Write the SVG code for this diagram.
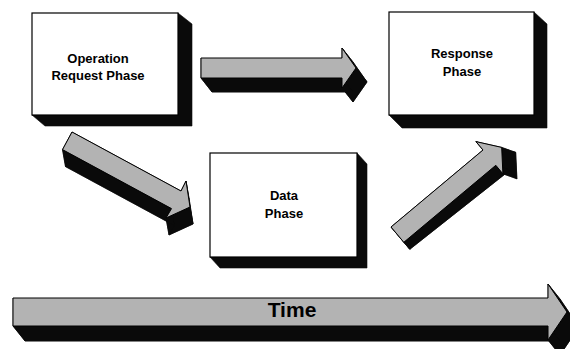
<svg xmlns="http://www.w3.org/2000/svg" width="570" height="349" viewBox="0 0 570 349">
  <style>
    .face { fill: #ffffff; stroke: #000; stroke-width: 1.2; }
    .side { fill: #0a0a0a; stroke: #0a0a0a; stroke-width: 0.6; stroke-linejoin: round; }
    .top { fill: #b3b3b3; stroke: #000; stroke-width: 1; stroke-linejoin: round; }
    .lbl { font-family: "Liberation Sans", Arial, sans-serif; font-weight: bold; font-size: 13px; fill: #000; text-anchor: middle; }
    .time { font-family: "Liberation Sans", Arial, sans-serif; font-weight: bold; font-size: 21px; fill: #000; text-anchor: middle; }
  </style>
  <rect x="0" y="0" width="570" height="349" fill="#ffffff"/>

  <g id="connectors">
    <g id="arrow-op-to-resp">
      <g class="side">
        <polygon points="212,72 353,72 353,62 367,82 353,102 353,92 212,92"/>
        <polygon points="342,58 342,48 353,62 353,72"/>
        <polygon points="342,48 356,68 367,82 353,62"/>
        <polygon points="356,68 342,88 353,102 367,82"/>
        <polygon points="342,88 342,78 353,92 353,102"/>
        <polygon points="342,78 201,78 212,92 353,92"/>
        <polygon points="201,78 201,58 212,72 212,92"/>
      </g>
      <polygon class="top" points="201,58 342,58 342,48 356,68 342,88 342,78 201,78"/>
    </g>

    <g id="arrow-op-to-data">
      <g class="side">
        <polygon points="75,149 184,208 189,198 193,224 169,235 174.5,225.6 65.5,166.6"/>
        <polygon points="72,132 181,191 184,208 75,149"/>
        <polygon points="181,191 186,181 189,198 184,208"/>
        <polygon points="186,181 190,207 193,224 189,198"/>
        <polygon points="190,207 166,218 169,235 193,224"/>
        <polygon points="166,218 171.5,208.6 174.5,225.6 169,235"/>
        <polygon points="171.5,208.6 62.5,149.6 65.5,166.6 174.5,225.6"/>
        <polygon points="62.5,149.6 72,132 75,149 65.5,166.6"/>
      </g>
      <polygon class="top" points="72,132 181,191 186,181 190,207 166,218 171.5,208.6 62.5,149.6"/>
    </g>

    <g id="arrow-data-to-resp">
      <g class="side">
        <polygon points="397,234 497,155 489.9,146.6 515.7,152.4 516.9,178.8 509.8,170.3 409.8,249.3"/>
        <polygon points="391,227 483,150 497,155 397,234"/>
        <polygon points="483,150 475.9,141.6 489.9,146.6 497,155"/>
        <polygon points="475.9,141.6 501.7,147.4 515.7,152.4 489.9,146.6"/>
        <polygon points="501.7,147.4 502.9,173.8 516.9,178.8 515.7,152.4"/>
        <polygon points="502.9,173.8 495.8,165.3 509.8,170.3 516.9,178.8"/>
        <polygon points="495.8,165.3 403.8,242.3 409.8,249.3 509.8,170.3"/>
        <polygon points="403.8,242.3 391,227 397,234 409.8,249.3"/>
      </g>
      <polygon class="top" points="391,227 483,150 475.9,141.6 501.7,147.4 502.9,173.8 495.8,165.3 403.8,242.3"/>
    </g>
  </g>

  <g id="time-arrow">
    <g class="side">
      <polygon points="25,313 560,313 560,299 579,327 560,355 560,341 25,341"/>
      <polygon points="548,298 548,284 560,299 560,313"/>
      <polygon points="548,284 567,312 579,327 560,299"/>
      <polygon points="567,312 548,340 560,355 579,327"/>
      <polygon points="548,340 548,326 560,341 560,355"/>
      <polygon points="548,326 13,326 25,341 560,341"/>
      <polygon points="13,326 13,298 25,313 25,341"/>
    </g>
    <polygon class="top" points="13,298 548,298 548,284 567,312 548,340 548,326 13,326"/>
    <text class="time" x="292" y="317">Time</text>
  </g>

  <g id="node-operation-request">
    <polygon class="side" points="178,13 192,24 192,126 45,126 32,115"/>
    <rect class="face" x="32" y="13" width="146" height="102"/>
    <text class="lbl" x="98" y="63">Operation</text>
    <text class="lbl" x="98" y="80">Request Phase</text>
  </g>

  <g id="node-response">
    <polygon class="side" points="534,12 547,24 547,128 402,128 389,115"/>
    <rect class="face" x="389" y="12" width="145" height="103"/>
    <text class="lbl" x="462" y="58">Response</text>
    <text class="lbl" x="462" y="76">Phase</text>
  </g>

  <g id="node-data">
    <polygon class="side" points="357,153 367,164 367,268 220,268 210,257"/>
    <rect class="face" x="210" y="153" width="147" height="104"/>
    <text class="lbl" x="284" y="200">Data</text>
    <text class="lbl" x="284" y="218">Phase</text>
  </g>
</svg>
